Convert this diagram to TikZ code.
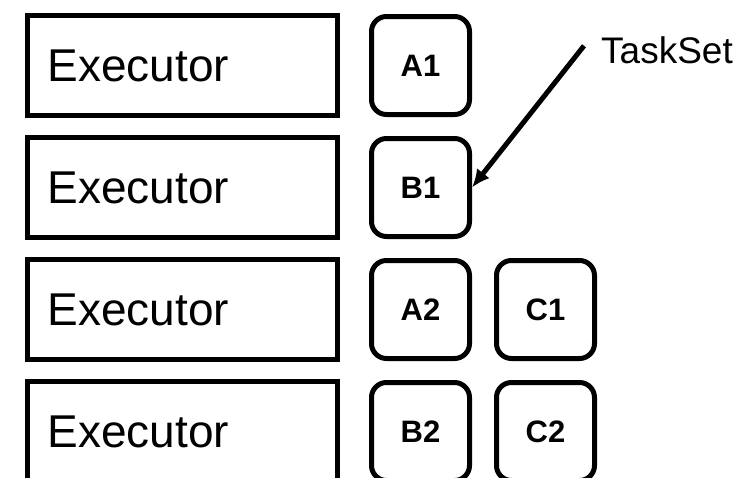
\documentclass[tikz,border=0pt]{standalone}
\usepackage{fontspec}
\setmainfont{Liberation Sans}
\usetikzlibrary{positioning,arrows.meta}
\tikzset{
exec/.style={
  draw=black,
  line width=5pt,
  minimum height=100pt,
  text width=270pt,
  inner xsep=20pt,
  align=left,
  font=\fontsize{46pt}{52pt}\selectfont
  },
task/.style={
  draw=black,
  line width=5pt,
  rounded corners=15pt,
  minimum width=98pt,
  minimum height=98pt,
  inner sep=0pt,
  font=\fontsize{31pt}{36pt}\selectfont\bfseries
  }
}

\begin{document}
\begin{tikzpicture}[>=latex]
\useasboundingbox (0,0) rectangle (742pt,-477pt);
\clip (0,0) rectangle (742pt,-477pt);

\node[exec] (exec1) at (182.5pt,-65.5pt) {Executor};
\node[exec,below=17pt of exec1] (exec2) {Executor};
\node[exec,below=17pt of exec2] (exec3) {Executor};
\node[exec,below=17pt of exec3] (exec4) {Executor};

\node[task,right=29pt of exec1] (a1) {A1};
\node[task,right=29pt of exec2] (b1) {B1};
\node[task,right=29pt of exec3] (a2) {A2};
\node[task,right=29pt of exec4] (b2) {B2};
\node[task,right=22pt of a2] (c1) {C1};
\node[task,right=22pt of b2] (c2) {C2};

\node[anchor=base west,inner sep=0pt,font=\fontsize{37pt}{42pt}\selectfont]
  (taskset) at (601pt,-63pt) {TaskSet};
\coordinate (taskset-f) at ([xshift=-17pt,yshift=4pt]taskset.west);

\draw[line width=5pt,-{Latex[length=18pt,width=16pt]}] (taskset-f) -- (b1.east);

\end{tikzpicture}
\end{document}
